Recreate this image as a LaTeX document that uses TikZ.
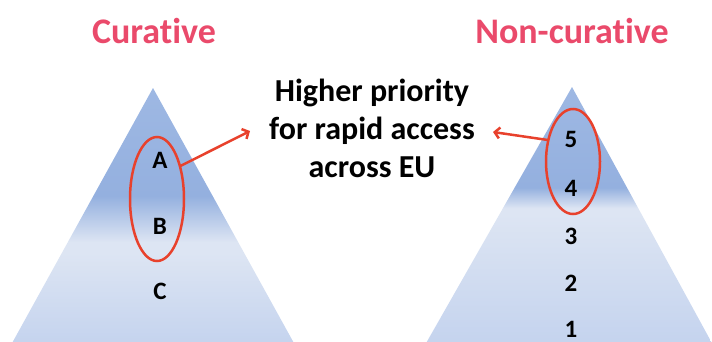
\documentclass[tikz,border=0pt]{standalone}
\usepackage{fontspec}
\setmainfont[Ligatures=NoCommon,RawFeature={-liga;-dlig}]{Carlito}
\usetikzlibrary{shapes.geometric,arrows.meta}
\definecolor{titlecol}{HTML}{EA4A6B}
\definecolor{arrowcol}{HTML}{E8412C}
\definecolor{tbottom}{HTML}{C4D3EE}
\definecolor{tlight}{HTML}{DDE5F3}
\definecolor{tdark}{HTML}{94B0DF}
\definecolor{ttop}{HTML}{9EB8E3}
\pgfdeclareverticalshading{lefttri}{100bp}{color(0bp)=(tbottom); color(25bp)=(tbottom); color(43bp)=(tlight); color(45bp)=(tlight); color(54bp)=(tdark); color(75bp)=(ttop); color(100bp)=(ttop)}
\pgfdeclareverticalshading{righttri}{100bp}{color(0bp)=(tbottom); color(25bp)=(tbottom); color(50.5bp)=(tlight); color(51.5bp)=(tlight); color(55.5bp)=(tdark); color(75bp)=(ttop); color(100bp)=(ttop)}
\tikzset{
  title/.style={font=\fontsize{36}{42}\selectfont\bfseries, text=titlecol, inner sep=0pt},
  lbl/.style={font=\fontsize{25}{30}\selectfont\bfseries, inner sep=0pt},
  ring/.style={ellipse, draw=arrowcol, line width=2.5pt, inner sep=0pt, outer sep=0pt},
  arr/.style={draw=arrowcol, line width=2.5pt, -{Straight Barb[length=5pt,width=11pt]}},
  note/.style={font=\fontsize{32}{38}\selectfont\bfseries, align=center, inner sep=0pt}
}
\begin{document}
\begin{tikzpicture}[x=1pt,y=-1pt]
\useasboundingbox (0,0) rectangle (712,341);
\begin{scope}
\clip (0,0) rectangle (712,341);
\shade[shading=lefttri] (153,88) -- (295,345) -- (11,345) -- cycle;
\shade[shading=righttri] (572,87) -- (713,345) -- (425,345) -- cycle;
\fill[white] (710,300) rectangle (712,341);
\end{scope}
\node[title] (t1) at (154,31) {Curative};
\node[title] (t2) at (572,31) {Non-curative};
\node[note] (txt) at (372,128) {Higher priority\\for rapid access\\across EU};
\node[lbl] (a) at (160,160) {A};
\node[lbl] (b) at (160,226) {B};
\node[lbl] (c) at (160,291) {C};
\node[lbl] (n5) at (571,139) {5};
\node[lbl] (n4) at (571,188) {4};
\node[lbl] (n3) at (571,236) {3};
\node[lbl] (n2) at (571,283) {2};
\node[lbl] (n1) at (571,329) {1};
\node[ring, minimum width=54pt, minimum height=124pt] (e1) at (157,199) {};
\node[ring, minimum width=54pt, minimum height=105pt] (e2) at (573,161.5) {};
\coordinate (la) at (250,131);
\coordinate (ra) at (493,132);
\draw[arr] (e1.55) -- (la);
\draw[arr] (e2.139) -- (ra);
\end{tikzpicture}
\end{document}
